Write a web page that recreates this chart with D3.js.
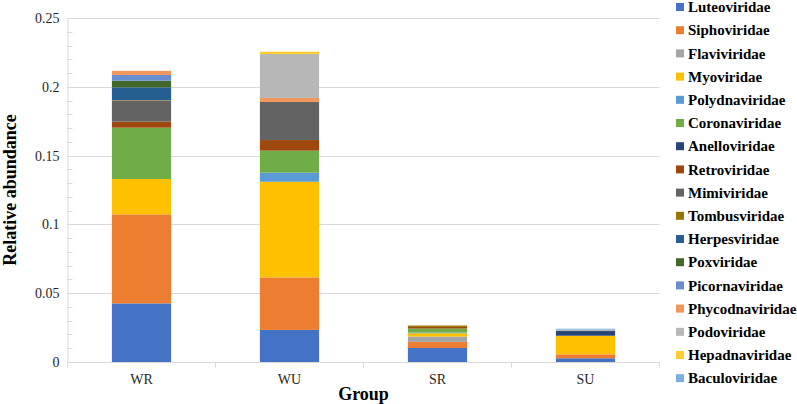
<!DOCTYPE html>
<html>
<head>
<meta charset="utf-8">
<script src="https://cdn.jsdelivr.net/npm/d3@7"></script>
<style>
  body { margin: 0; background: #fff; }
  svg { display: block; }
  svg text { font-family: "Liberation Serif", "Times New Roman", serif; }
  .grid line { stroke: #d9d9d9; }
  .axis path, .axis line { stroke: #d9d9d9; }
  .axis text { fill: #262626; font-size: 14px; }
  .legend text { font-size: 15px; font-weight: bold; fill: #000; }
</style>
</head>
<body>
<svg width="797" height="404"></svg>
<script>
let groups = ["WR", "WU", "SR", "SU"];
let families = ["Luteoviridae", "Siphoviridae", "Flaviviridae", "Myoviridae", "Polydnaviridae",
  "Coronaviridae", "Anelloviridae", "Retroviridae", "Mimiviridae", "Tombusviridae",
  "Herpesviridae", "Poxviridae", "Picornaviridae", "Phycodnaviridae", "Podoviridae",
  "Hepadnaviridae", "Baculoviridae"];
let colors = ["#4472c4", "#ed7d31", "#a5a5a5", "#ffc000", "#5b9bd5", "#70ad47", "#264478",
  "#9e480e", "#636363", "#997300", "#255e91", "#43682b", "#698ed0", "#f1975a", "#b7b7b7",
  "#ffcd33", "#7cafdd"];

// one array per family, values for WR, WU, SR, SU
let luteo    = [0.0426, 0.0233, 0.0102, 0.0027];
let sipho    = [0.0647, 0.0382, 0.0044, 0.0029];
let flavi    = [0,      0,      0.0039, 0];
let myo      = [0.0257, 0.0695, 0.0024, 0.0135];
let polydna  = [0,      0.0066, 0.0005, 0];
let corona   = [0.0373, 0.0160, 0.0029, 0];
let anello   = [0,      0,      0,      0.0034];
let retro    = [0.0044, 0.0077, 0.0012, 0];
let mimi     = [0.0153, 0.0277, 0,      0];
let tombus   = [0.0003, 0,      0.0010, 0];
let herpes   = [0.0093, 0,      0,      0];
let pox      = [0.0048, 0,      0,      0];
let picorna  = [0.0042, 0,      0,      0];
let phycodna = [0.0030, 0.0029, 0,      0];
let podo     = [0,      0.0319, 0,      0.0010];
let hepadna  = [0,      0.0017, 0,      0];
let baculo   = [0,      0,      0,      0.0007];

let yTicks = [0, 0.05, 0.1, 0.15, 0.2, 0.25];

let series = [luteo, sipho, flavi, myo, polydna, corona, anello, retro, mimi, tombus,
  herpes, pox, picorna, phycodna, podo, hepadna, baculo];

let rows = groups.map((g, i) => {
  let row = { group: g };
  families.forEach((f, j) => { row[f] = series[j][i]; });
  return row;
});

var svg = d3.select("svg");
let plotLeft = 67.5, plotRight = 659.5, plotTop = 18, plotBottom = 362;
let serif = "Liberation Serif, Times New Roman, serif";

let x = d3.scaleBand().domain(groups).range([plotLeft, plotRight])
  .paddingInner(0.6).paddingOuter(0.3);
let y = d3.scaleLinear().domain([0, 0.25]).range([plotBottom, plotTop]);
let color = d3.scaleOrdinal().domain(families).range(colors);

// gridlines
svg.append("g").attr("class", "grid")
  .selectAll("line")
  .data(yTicks.slice(1))
  .enter().append("line")
  .attr("x1", plotLeft).attr("x2", plotRight)
  .attr("y1", d => Math.round(y(d)) + 0.5).attr("y2", d => Math.round(y(d)) + 0.5);

// bars
let stacked = d3.stack().keys(families)(rows);
svg.append("g").selectAll("g")
  .data(stacked)
  .enter().append("g")
  .attr("fill", d => color(d.key))
  .selectAll("rect")
  .data(d => d)
  .enter().append("rect")
  .attr("x", d => x(d.data.group))
  .attr("width", x.bandwidth())
  .attr("y", d => y(d[1]))
  .attr("height", d => y(d[0]) - y(d[1]));

// y axis
let yAxis = svg.append("g").attr("class", "axis")
  .attr("transform", translate(plotLeft, 0))
  .call(d3.axisLeft(y).tickValues(yTicks).tickSize(0).tickPadding(8)
    .tickFormat(d => String(+d.toFixed(2))))
  .attr("font-family", serif).attr("font-size", 14);
yAxis.select(".domain").attr("d", `M0.5,${plotTop}V${plotBottom}`);

// minor ticks on y axis
svg.append("g").attr("class", "axis")
  .selectAll("line")
  .data(d3.range(0, 0.2501, 0.01))
  .enter().append("line")
  .attr("x1", plotLeft).attr("x2", plotLeft + 5)
  .attr("y1", d => Math.round(y(d)) + 0.5).attr("y2", d => Math.round(y(d)) + 0.5);

// x axis
let xAxis = svg.append("g").attr("class", "axis")
  .attr("transform", translate(0, plotBottom + 0.5))
  .call(d3.axisBottom(x).tickSize(0).tickPadding(12))
  .attr("font-family", serif).attr("font-size", 14);
xAxis.select(".domain").attr("d", `M${plotLeft},0H${plotRight}`);
xAxis.append("g").selectAll("line")
  .data(d3.range(groups.length + 1))
  .enter().append("line")
  .attr("x1", i => plotLeft + i * x.step()).attr("x2", i => plotLeft + i * x.step())
  .attr("y1", 0).attr("y2", 5);

// axis titles
svg.append("text")
  .attr("transform", translate(16, (plotTop + plotBottom) / 2) + " rotate(-90)")
  .attr("text-anchor", "middle")
  .style("font-size", "18px").style("font-weight", "bold")
  .text("Relative abundance");

svg.append("text")
  .attr("x", (plotLeft + plotRight) / 2).attr("y", 400)
  .attr("text-anchor", "middle")
  .style("font-size", "18px").style("font-weight", "bold")
  .text("Group");

// legend
let legend = svg.append("g").attr("class", "legend")
  .selectAll("g")
  .data(families)
  .enter().append("g")
  .attr("transform", (d, i) => translate(676, 7 + i * 23.2));
legend.append("rect")
  .attr("x", 0).attr("y", -4).attr("width", 8).attr("height", 8)
  .attr("fill", d => color(d));
legend.append("text")
  .attr("x", 12).attr("y", 0).attr("dy", "0.35em")
  .text(d => d);

function translate(x, y) {
  return `translate(${x},${y})`;
}
</script>
</body>
</html>
